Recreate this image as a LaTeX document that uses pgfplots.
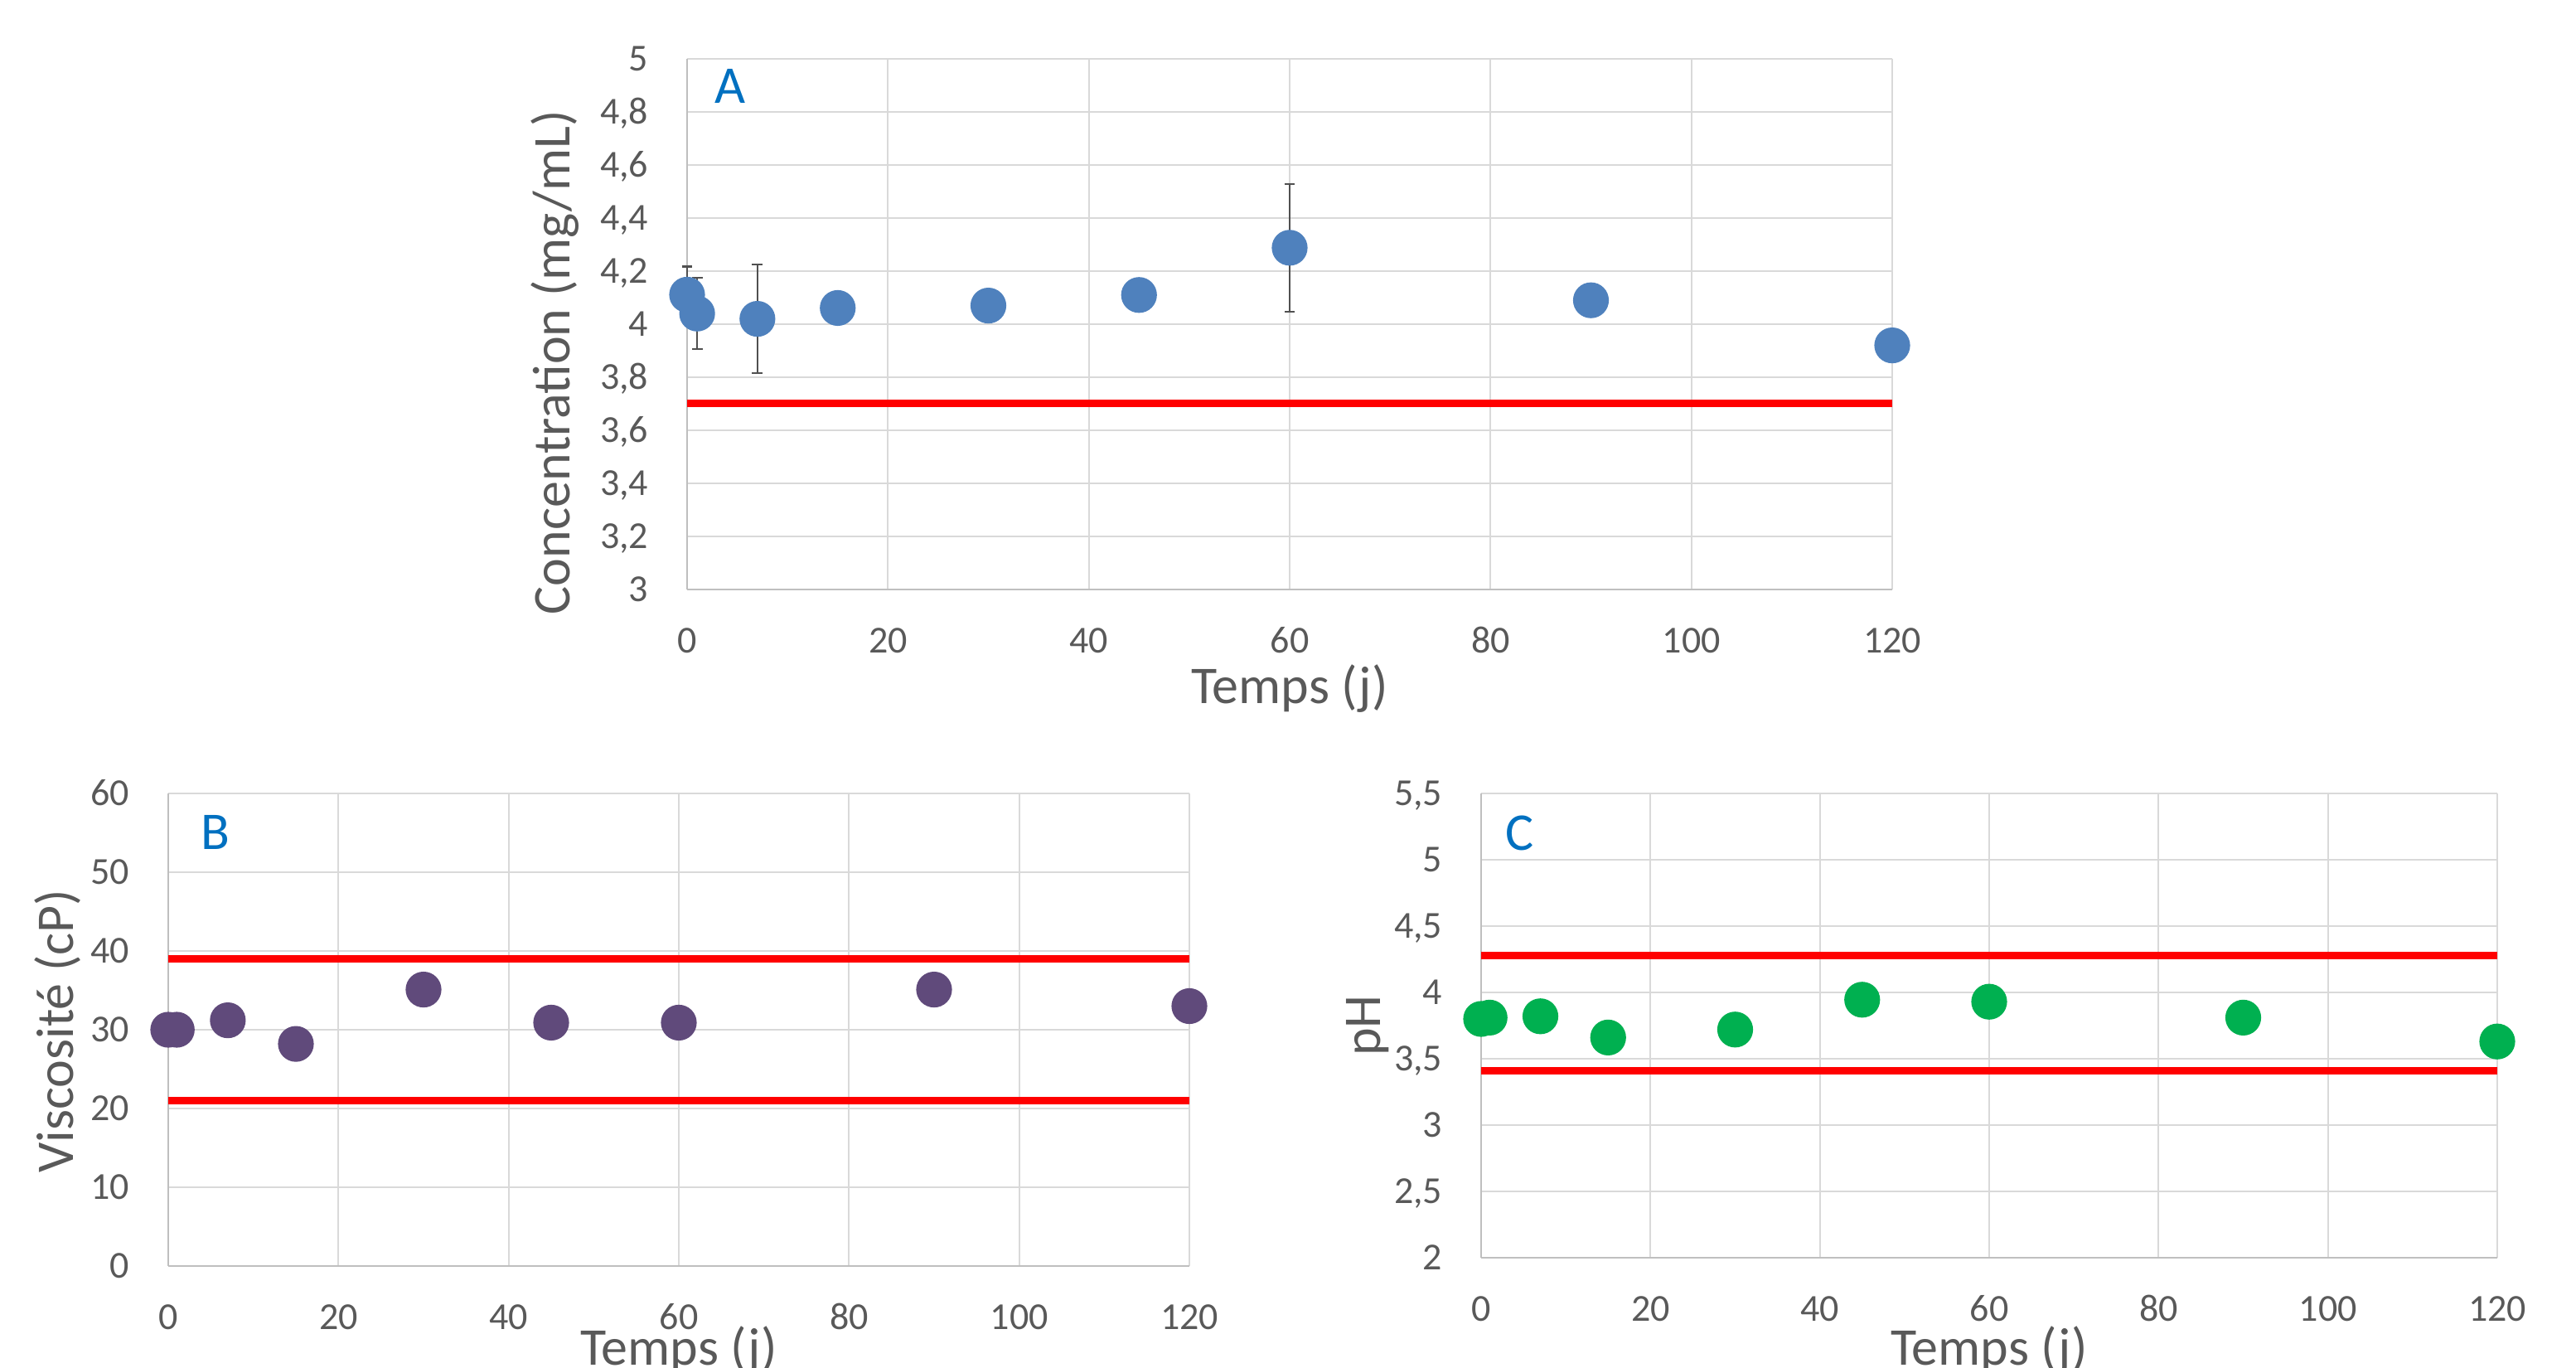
\documentclass[border=0pt]{standalone}
\usepackage{pgfplots}
\pgfplotsset{compat=1.18}
\usepackage{fontspec}
\setmainfont{Carlito}
\definecolor{txt}{HTML}{595959}
\definecolor{grd}{HTML}{D9D9D9}
\definecolor{axl}{HTML}{BFBFBF}
\definecolor{blueA}{HTML}{4F81BD}
\definecolor{purpleB}{HTML}{604A7B}
\definecolor{greenC}{HTML}{00B050}
\definecolor{lbl}{HTML}{0070C0}
\definecolor{redl}{HTML}{FF0000}
\definecolor{errc}{HTML}{505050}
\tikzset{labfont/.style={font=\fontsize{16}{18}\selectfont, text=txt, inner sep=0pt}}
\pgfplotsset{
  panel/.style={
    scale only axis,
    clip=false,
    xmin=0, xmax=120,
    xtick={0,20,...,120},
    axis x line*=bottom, axis y line*=left,
    axis line style={draw=axl, line width=0.5pt, -},
    major tick length=0pt,
    grid=major,
    major grid style={draw=grd, line width=0.45pt},
    /pgf/number format/assume math mode=true,
    tick label style={font=\fontsize{11.5}{13}\selectfont, text=txt, inner sep=0pt},
    xticklabel style={anchor=base, yshift=-19.2pt},
    yticklabel style={anchor=base east, xshift=-11.5pt, yshift=-3.65pt},
  },
  redline/.style={draw=redl, line width=2.25pt, mark=none},
  dots/.style={only marks, mark=*, mark size=5.2pt},
}
\begin{document}
\begin{tikzpicture}
\path[use as bounding box] (0,0) rectangle (777pt,412.5pt);
\clip (0,0) rectangle (777pt,412.5pt);

% Panel A
\begin{axis}[panel,
  at={(207.25pt,234.75pt)}, anchor=south west,
  width=363.5pt, height=160pt,
  ymin=3, ymax=5,
  ytick={3,3.2,3.4,3.6,3.8,4,4.2,4.4,4.6,4.8,5},
  yticklabels={3,{3,2},{3,4},{3,6},{3,8},4,{4,2},{4,4},{4,6},{4,8},5},
  xlabel={Temps (j)},
  ylabel={Concentration (mg/mL)},
  every axis x label/.style={labfont, at={(axis description cs:0.5,-0.2156)}, anchor=base},
  every axis y label/.style={labfont, at={(axis description cs:-0.0970,0.428)}, rotate=90, anchor=base},
]
\addplot[redline] coordinates {(0,3.7) (120,3.7)};
\addplot[only marks, mark=none,
  error bars/.cd, y dir=both, y explicit,
  error mark=|,
  error bar style={draw=errc, line width=0.55pt},
  error mark options={draw=errc, line width=0.55pt, mark size=1.6pt}]
  coordinates {
   (0,4.111) +- (0,0.106)
   (1,4.04) +- (0,0.134)
   (7,4.02) +- (0,0.205)
   (60,4.288) +- (0,0.24)
  };
\addplot[dots, blueA, mark options={draw=blueA, fill=blueA}] coordinates {
  (0,4.111) (1,4.04) (7,4.02) (15,4.061) (30,4.07) (45,4.11) (60,4.288) (90,4.09) (120,3.92)
};
\node[anchor=north west, inner sep=0pt, font=\fontsize{16}{18}\selectfont, text=lbl, xshift=8.25pt, yshift=-3pt] at (rel axis cs:0,1) {A};
\end{axis}

% Panel B
\begin{axis}[panel,
  at={(50.75pt,30.75pt)}, anchor=south west,
  width=308pt, height=142.5pt,
  ymin=0, ymax=60,
  ytick={0,10,...,60},
  xlabel={Temps (j)},
  ylabel={Viscosité (cP)},
  every axis x label/.style={labfont, at={(axis description cs:0.5,-0.2088)}, anchor=base},
  every axis y label/.style={labfont, at={(axis description cs:-0.0933,0.497)}, rotate=90, anchor=base},
]
\addplot[redline] coordinates {(0,39) (120,39)};
\addplot[redline] coordinates {(0,21) (120,21)};
\addplot[dots, purpleB, mark options={draw=purpleB, fill=purpleB}] coordinates {
  (0,30.0) (1,30.0) (7,31.2) (15,28.2) (30,35.1) (45,30.9) (60,30.9) (90,35.1) (120,33.0)
};
\node[anchor=north west, inner sep=0pt, font=\fontsize{16}{18}\selectfont, text=lbl, xshift=9.75pt, yshift=-6.5pt] at (rel axis cs:0,1) {B};
\end{axis}

% Panel C
\begin{axis}[panel,
  at={(446.75pt,33.25pt)}, anchor=south west,
  width=306.5pt, height=140pt,
  ymin=2, ymax=5.5,
  ytick={2,2.5,3,3.5,4,4.5,5,5.5},
  yticklabels={2,{2,5},3,{3,5},4,{4,5},5,{5,5}},
  xlabel={Temps (j)},
  ylabel={pH},
  every axis x label/.style={labfont, at={(axis description cs:0.5,-0.2304)}, anchor=base},
  every axis y label/.style={labfont, at={(axis description cs:-0.0995,0.5)}, rotate=90, anchor=base},
]
\addplot[redline] coordinates {(0,4.28) (120,4.28)};
\addplot[redline] coordinates {(0,3.41) (120,3.41)};
\addplot[dots, greenC, mark options={draw=greenC, fill=greenC}] coordinates {
  (0,3.80) (1,3.81) (7,3.82) (15,3.66) (30,3.72) (45,3.945) (60,3.93) (90,3.81) (120,3.63)
};
\node[anchor=north west, inner sep=0pt, font=\fontsize{16}{18}\selectfont, text=lbl, xshift=7.25pt, yshift=-6.5pt] at (rel axis cs:0,1) {C};
\end{axis}
\end{tikzpicture}
\end{document}
